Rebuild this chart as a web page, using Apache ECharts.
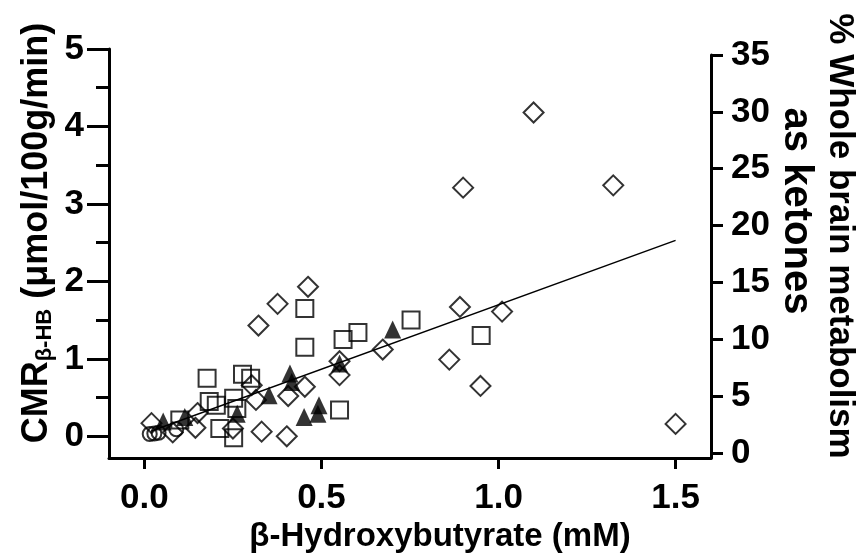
<!DOCTYPE html>
<html>
<head>
<meta charset="utf-8">
<script src="https://cdn.jsdelivr.net/npm/echarts@6/dist/echarts.min.js"></script>
<style>
  html, body { margin: 0; padding: 0; background: #fff; }
  #chart { width: 861px; height: 560px; }
</style>
</head>
<body>
<div id="chart"></div>
<script>
// data: [beta-HB (mM), CMR (umol/100g/min)]
var diamonds = [
  [0.02, 0.17], [0.08, 0.05], [0.144, 0.11], [0.15, 0.3], [0.25, 0.1],
  [0.303, 0.66], [0.315, 0.47], [0.331, 0.06], [0.322, 1.43], [0.376, 1.71],
  [0.402, 0.0], [0.406, 0.52], [0.453, 0.64], [0.462, 1.93], [0.551, 0.97],
  [0.551, 0.79], [0.673, 1.12], [0.861, 0.99], [0.891, 1.67], [0.90, 3.21],
  [0.949, 0.65], [1.01, 1.61], [1.099, 4.18], [1.324, 3.24], [1.50, 0.16]
];
var squares = [
  [0.10, 0.21], [0.177, 0.75], [0.183, 0.45], [0.203, 0.40], [0.213, 0.10],
  [0.252, 0.49], [0.261, 0.36], [0.252, -0.02], [0.277, 0.80], [0.300, 0.75],
  [0.453, 1.65], [0.453, 1.15], [0.551, 0.34], [0.561, 1.25], [0.603, 1.34],
  [0.753, 1.50], [0.951, 1.30]
];
var triangles = [
  [0.053, 0.19], [0.114, 0.25], [0.262, 0.29], [0.352, 0.53], [0.411, 0.81],
  [0.416, 0.70], [0.451, 0.25], [0.49, 0.29], [0.493, 0.40], [0.551, 0.94],
  [0.701, 1.38]
];
var circles = [[0.015, 0.03], [0.028, 0.035], [0.04, 0.045], [0.09, 0.09]];
var fitLine = [[0.02, 0.068], [1.5, 2.53]];

var xTicks = [0, 0.5, 1.0, 1.5];
var yTicks = [0, 1, 2, 3, 4, 5];
var yMinorTicks = [0.5, 1.5, 2.5, 3.5, 4.5];
var rightTicks = [0, 5, 10, 15, 20, 25, 30, 35];

var font = 'Liberation Sans, Arial, Helvetica, sans-serif';
var axisLine = { show: true, onZero: false, lineStyle: { color: '#000', width: 3 } };
var labelStyle = { color: '#000', fontFamily: font, fontWeight: 'bold', fontSize: 35 };

var hollow = { color: 'rgba(0,0,0,0)', borderColor: '#000', borderWidth: 2 };

var chart = echarts.init(document.getElementById('chart'));
var option = {
  animation: false,
  backgroundColor: '#fff',
  grid: [
    { left: 109, right: 150, top: 49, bottom: 102 },
    { left: 109, right: 150, top: 55, bottom: 102 }
  ],
  xAxis: [
    {
      type: 'value', gridIndex: 0, min: -0.1, max: 1.6,
      axisLine: axisLine,
      splitLine: { show: false },
      axisTick: { show: true, customValues: xTicks, length: 11, lineStyle: { color: '#000', width: 3 } },
      axisLabel: Object.assign({ customValues: xTicks, margin: 23,
        formatter: function (v) { return v.toFixed(1); } }, labelStyle)
    },
    { type: 'value', gridIndex: 1, min: -0.1, max: 1.6, show: false }
  ],
  yAxis: [
    {
      type: 'value', gridIndex: 0, position: 'left', min: -0.28, max: 5,
      axisLine: axisLine,
      splitLine: { show: false },
      axisTick: { show: true, customValues: yTicks, length: 22, lineStyle: { color: '#000', width: 3 } },
      axisLabel: Object.assign({ customValues: yTicks, margin: 25 }, labelStyle)
    },
    {
      // minor ticks on the left axis
      type: 'value', gridIndex: 0, position: 'left', min: -0.28, max: 5,
      axisLine: { show: false, onZero: false },
      splitLine: { show: false },
      axisTick: { show: true, customValues: yMinorTicks, length: 13, lineStyle: { color: '#000', width: 3 } },
      axisLabel: { show: false }
    },
    {
      type: 'value', gridIndex: 1, position: 'right', min: -0.44, max: 35,
      axisLine: axisLine,
      splitLine: { show: false },
      axisTick: { show: true, customValues: rightTicks, length: 12, lineStyle: { color: '#000', width: 3 } },
      axisLabel: Object.assign({ customValues: rightTicks, margin: 20 }, labelStyle)
    }
  ],
  graphic: [
    {
      type: 'text', x: 440, y: 537,
      style: { text: 'β-Hydroxybutyrate (mM)', fill: '#000', font: 'bold 33px ' + font,
        textAlign: 'center', textVerticalAlign: 'middle' }
    },
    {
      type: 'text', x: 37, y: 233, rotation: Math.PI / 2,
      style: {
        text: 'CMR{sub|β-HB} (μmol/100g/min)', fill: '#000', font: 'bold 36px ' + font,
        textAlign: 'center', textVerticalAlign: 'middle',
        rich: { sub: { font: 'bold 22px ' + font, fill: '#000', padding: [16, 0, 0, 0] } }
      }
    },
    {
      type: 'text', x: 840, y: 236, rotation: -Math.PI / 2,
      style: { text: '% Whole brain metabolism', fill: '#000', font: 'bold 35px ' + font,
        textAlign: 'center', textVerticalAlign: 'middle' }
    },
    {
      type: 'text', x: 796, y: 211, rotation: -Math.PI / 2,
      style: { text: 'as ketones', fill: '#000', font: 'bold 40px ' + font,
        textAlign: 'center', textVerticalAlign: 'middle' }
    }
  ],
  series: [
    {
      type: 'line', data: fitLine, showSymbol: false, z: 1,
      lineStyle: { color: '#000', width: 1.5 }
    },
    {
      type: 'scatter', data: diamonds, symbol: 'diamond', symbolSize: [20, 20],
      itemStyle: hollow
    },
    {
      type: 'scatter', data: squares, symbol: 'rect', symbolSize: [17, 17],
      itemStyle: hollow
    },
    {
      type: 'scatter', data: circles, symbol: 'circle', symbolSize: 14,
      itemStyle: hollow
    },
    {
      type: 'scatter', data: triangles, symbol: 'triangle', symbolSize: [17, 18],
      itemStyle: { color: '#000' }
    }
  ]
};
option && chart.setOption(option);
</script>
</body>
</html>
